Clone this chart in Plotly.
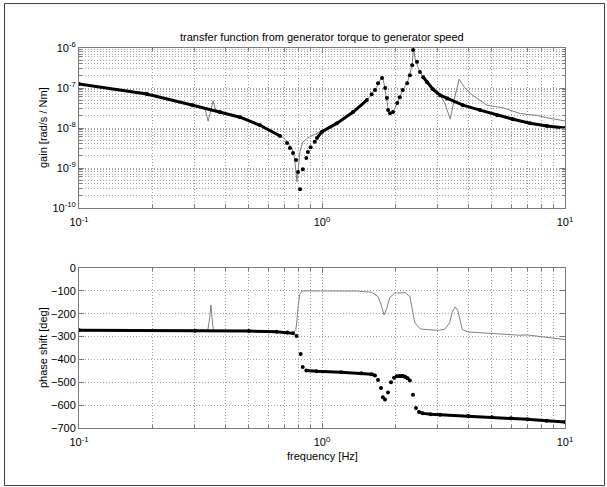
import plotly.graph_objects as go

# ---------------- data ----------------
# black dotted series, gain [rad/s / Nm]  (None = gap between isolated dots)
f_gain_black = [0.1, 0.19, 0.294, 0.38, 0.46, 0.556, 0.672, None,
                0.718, None, 0.738, None, 0.760, None, 0.782, None, 0.797, None, 0.812, None,
                0.834, None, 0.862, None, 0.875, None, 0.898, None, 0.934, None,
                0.953, 1.0, 1.153, 1.343, 1.53, None,
                1.60, None, 1.652, None, 1.70, None, 1.766, None, 1.82, None, 1.85, None,
                1.87, None, 1.905, None, 1.96, None, 2.04, None, 2.09, None, 2.15, None,
                2.24, None, 2.30, None, 2.35, None, 2.37, None, 2.46, None, 2.53, None,
                2.61, 2.70, 2.86, 3.06, 3.27, 3.80, 4.47, 5.25, 6.11, 7.18, 8.43, 10.0]
gain_black = [1.26e-7, 7.1e-8, 3.7e-8, 2.5e-8, 1.86e-8, 1.17e-8, 6.3e-9, None,
              4.2e-9, None, 3.16e-9, None, 2.37e-9, None, 1.58e-9, None, 7.9e-10, None, 2.95e-10, None,
              9.3e-10, None, 1.78e-9, None, 2.5e-9, None, 3.3e-9, None, 4.5e-9, None,
              5.6e-9, 8.1e-9, 1.32e-8, 2.5e-8, 5.0e-8, None,
              7.0e-8, None, 8.9e-8, None, 1.32e-7, None, 1.78e-7, None, 1.0e-7, None, 5.6e-8, None,
              2.8e-8, None, 2.34e-8, None, 2.5e-8, None, 4.2e-8, None, 5.9e-8, None, 8.9e-8, None,
              1.32e-7, None, 2.09e-7, None, 3.7e-7, None, 8.9e-7, None, 4.5e-7, None, 2.5e-7, None,
              1.86e-7, 1.41e-7, 9.3e-8, 6.6e-8, 5.5e-8, 3.72e-8, 2.8e-8, 2.09e-8, 1.66e-8, 1.32e-8, 1.12e-8, 1.0e-8]

# thin grey series, gain
f_gain_grey = [0.1, 0.19, 0.294, 0.33, 0.340, 0.349, 0.356, 0.365, 0.38, 0.46, 0.556, 0.672,
               0.718, 0.75, 0.77, 0.789, 0.80, 0.812, 0.834, 0.87, 0.93, 1.0, 1.153, 1.343,
               1.53, 1.65, 1.72, 1.766, 1.80, 1.84, 1.88, 1.905, 1.96, 2.04, 2.15, 2.24,
               2.30, 2.35, 2.38, 2.42, 2.53, 2.70, 2.86, 3.06, 3.2, 3.37, 3.50, 3.67,
               3.85, 4.06, 4.77, 5.56, 6.54, 7.18, 7.6, 8.43, 10.0]
gain_grey = [1.26e-7, 7.1e-8, 3.7e-8, 3.0e-8, 1.48e-8, 2.9e-8, 4.7e-8, 2.9e-8, 2.5e-8, 1.86e-8, 1.2e-8, 6.8e-9,
             4.6e-9, 3.2e-9, 1.9e-9, 4.5e-10, 1.3e-9, 2.7e-9, 4.4e-9, 5.6e-9, 6.9e-9, 8.5e-9, 1.35e-8, 2.5e-8,
             5.0e-8, 8.9e-8, 1.4e-7, 2.0e-7, 1.3e-7, 5.0e-8, 2.6e-8, 2.34e-8, 2.5e-8, 4.2e-8, 8.9e-8, 1.32e-7,
             2.2e-7, 4.0e-7, 1.0e-6, 5.0e-7, 2.5e-7, 1.41e-7, 9.3e-8, 6.6e-8, 4.2e-8, 1.66e-8, 5.2e-8, 1.66e-7,
             1.05e-7, 7.4e-8, 3.7e-8, 3.2e-8, 2.3e-8, 2.15e-8, 2.1e-8, 1.8e-8, 1.5e-8]

# black dotted series, phase [deg]
f_phase_black = [0.1, 0.3, 0.5, 0.65, 0.72, 0.76, None,
                 0.785, None, 0.817, None, 0.833, None,
                 0.862, 0.95, 1.2, 1.45, 1.6, 1.652, None,
                 1.70, None, 1.749, None, 1.78, None, 1.816, None, 1.869, None, 1.923, None, 1.979, None,
                 2.03, 2.094, 2.15, 2.196, 2.25, None,
                 2.30, None, 2.368, None, 2.436, None,
                 2.506, 2.6, 2.8, 3.06, 4.0, 5.0, 6.0, 7.0, 8.4, 10.0]
phase_black = [-272, -274, -276, -279, -282, -286, None,
               -298, None, -376, None, -433, None,
               -448, -452, -456, -460, -465, -470, None,
               -490, None, -525, None, -565, None, -575, None, -545, None, -500, None, -480, None,
               -474, -472, -472, -476, -482, None,
               -492, None, -555, None, -612, None,
               -630, -636, -640, -642, -648, -653, -657, -662, -668, -674]

# thin grey series, phase
f_phase_grey = [0.1, 0.33, 0.339, 0.345, 0.349, 0.353, 0.357, 0.5, 0.7, 0.76, 0.78, 0.787,
                0.797, 0.81, 0.83, 1.0, 1.4, 1.6, 1.7, 1.75, 1.80, 1.85, 1.9, 1.99,
                2.2, 2.3, 2.41, 2.54, 3.0, 3.2, 3.35, 3.43, 3.53, 3.62, 3.7, 3.78,
                4.0, 4.5, 5.5, 6.5, 7.0, 7.6, 8.5, 10.0]
phase_grey = [-272, -274, -272, -220, -162, -220, -273, -276, -280, -282, -270, -240,
              -170, -115, -100, -100, -101, -106, -125, -160, -205, -175, -130, -110,
              -108, -125, -240, -267, -273, -268, -240, -195, -170, -185, -225, -270,
              -280, -284, -290, -294, -293, -298, -305, -313]

x_tickvals = [0.1, 1, 10]
x_ticktext = ["10<sup>-1</sup>", "10<sup>0</sup>", "10<sup>1</sup>"]
gain_tickvals = [1e-10, 1e-9, 1e-8, 1e-7, 1e-6]
gain_ticktext = ["10<sup>-10</sup>", "10<sup>-9</sup>", "10<sup>-8</sup>", "10<sup>-7</sup>", "10<sup>-6</sup>"]
phase_tickvals = [0, -100, -200, -300, -400, -500, -600, -700]

title_text = "transfer function from generator torque to generator speed"
gain_label = "gain [rad/s / Nm]"
phase_label = "phase shift [deg]"
freq_label = "frequency [Hz]"

# ---------------- figure ----------------
W, H = 607, 487
L, R, T, B = 79, 565, 48, 428          # plot area in pixels
def px(xp):
    return (xp - L) / (R - L)
def py(yp):
    return (B - yp) / (B - T)

FONT = "Liberation Sans, Arial, Helvetica, sans-serif"
AX = "#7a7a7a"
GRID = "#a0a0a0"
GREY = "#808080"
DOT = "1px,2px"

minor_x = [m * 10 ** e for e in (-1, 0) for m in range(2, 10)]
minor_y = [m * 10 ** e for e in range(-10, -6) for m in range(2, 10)]

fig = go.Figure()
fig.add_trace(go.Scatter(x=f_gain_grey, y=gain_grey, mode="lines",
                         line=dict(color=GREY, width=1), xaxis="x", yaxis="y"))
fig.add_trace(go.Scatter(x=f_gain_black, y=gain_black, mode="lines+markers", connectgaps=False,
                         line=dict(color="black", width=3), marker=dict(color="black", size=4),
                         xaxis="x", yaxis="y"))
fig.add_trace(go.Scatter(x=f_phase_grey, y=phase_grey, mode="lines",
                         line=dict(color=GREY, width=1), xaxis="x2", yaxis="y2"))
fig.add_trace(go.Scatter(x=f_phase_black, y=phase_black, mode="lines+markers", connectgaps=False,
                         line=dict(color="black", width=3), marker=dict(color="black", size=4),
                         xaxis="x2", yaxis="y2"))

common_x = dict(type="log", range=[-1, 1], tickmode="array", tickvals=x_tickvals, ticktext=x_ticktext,
                ticks="inside", ticklen=5, tickcolor=AX, showline=True, linecolor=AX, linewidth=1,
                mirror="allticks", showgrid=True, gridcolor=GRID, griddash=DOT, gridwidth=1,
                zeroline=False, ticklabelstandoff=4, tickfont=dict(family=FONT, size=11, color="black"),
                minor=dict(tickmode="array", tickvals=minor_x, ticks="inside", ticklen=3, tickcolor=AX,
                           showgrid=True, gridcolor=GRID, griddash=DOT, gridwidth=1))

top_lo = py(208)
bot_hi = py(268)

fig.update_layout(
    width=W, height=H, margin=dict(l=L, r=W - R, t=T, b=H - B, pad=0),
    paper_bgcolor="white", plot_bgcolor="white", showlegend=False, hovermode=False,
    font=dict(family=FONT, size=11, color="black"),
    xaxis=dict(common_x, domain=[0, 1], anchor="y"),
    xaxis2=dict(common_x, domain=[0, 1], anchor="y2"),
    yaxis=dict(type="log", range=[-10, -6], domain=[top_lo, 1], anchor="x",
               tickmode="array", tickvals=gain_tickvals, ticktext=gain_ticktext,
               ticks="inside", ticklen=5, tickcolor=AX, showline=True, linecolor=AX, linewidth=1,
               mirror="allticks", showgrid=True, gridcolor=GRID, griddash=DOT, gridwidth=1,
               zeroline=False, tickfont=dict(family=FONT, size=11, color="black"),
               minor=dict(tickmode="array", tickvals=minor_y, ticks="inside", ticklen=3, tickcolor=AX,
                          showgrid=True, gridcolor=GRID, griddash=DOT, gridwidth=1)),
    yaxis2=dict(range=[-700, 0], domain=[0, bot_hi], anchor="x2",
                tickmode="array", tickvals=phase_tickvals,
                ticks="inside", ticklen=5, tickcolor=AX, showline=True, linecolor=AX, linewidth=1,
                mirror="allticks", showgrid=True, gridcolor=GRID, griddash=DOT, gridwidth=1,
                zeroline=False, tickfont=dict(family=FONT, size=11, color="black")),
    annotations=[
        dict(text=title_text, x=0.5, y=py(37), xref="paper", yref="paper", showarrow=False,
             xanchor="center", yanchor="middle", font=dict(family=FONT, size=11, color="black")),
        dict(text=gain_label, x=px(43), y=py(128), xref="paper", yref="paper", showarrow=False,
             textangle=-90, xanchor="center", yanchor="middle", font=dict(family=FONT, size=11, color="black")),
        dict(text=phase_label, x=px(43), y=py(348), xref="paper", yref="paper", showarrow=False,
             textangle=-90, xanchor="center", yanchor="middle", font=dict(family=FONT, size=11, color="black")),
        dict(text=freq_label, x=0.5, y=py(456), xref="paper", yref="paper", showarrow=False,
             xanchor="center", yanchor="middle", font=dict(family=FONT, size=11, color="black")),
    ],
    shapes=[dict(type="rect", xref="paper", yref="paper",
                 x0=px(4.5), x1=px(604.5), y0=py(485.5), y1=py(3.5),
                 line=dict(color="#404040", width=1), fillcolor="rgba(0,0,0,0)")],
)

fig.write_html("out.html", config={"displayModeBar": False})
